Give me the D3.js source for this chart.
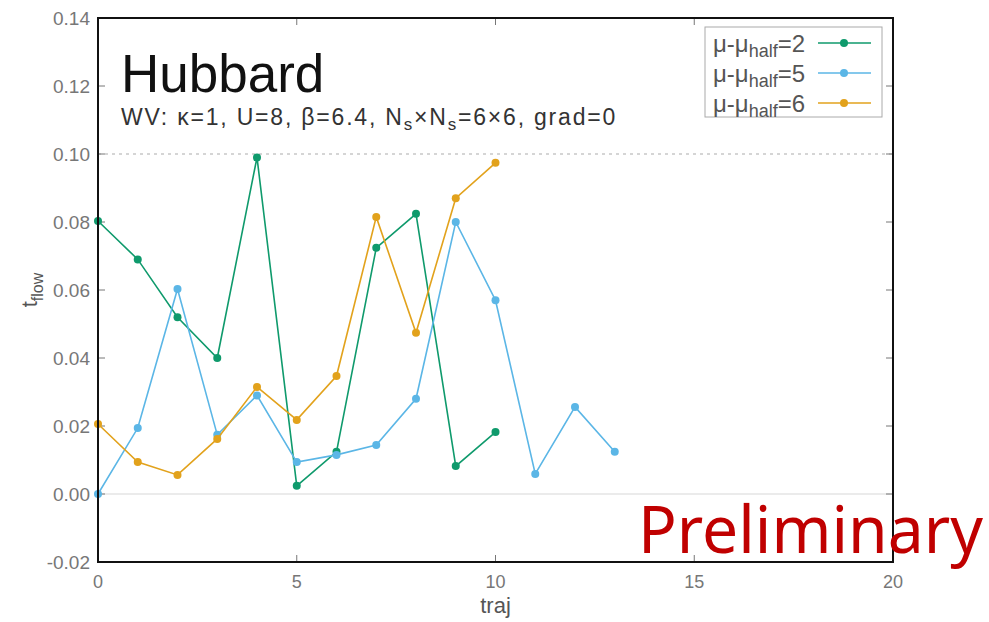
<!DOCTYPE html>
<html>
<head>
<meta charset="utf-8">
<script src="https://cdn.jsdelivr.net/npm/d3@7"></script>
<style>
  body { margin: 0; background: #fff; }
</style>
</head>
<body>
<div class="render"></div>
<script>
// series values (traj index = position)
var mu2 = [0.0803, 0.069, 0.052, 0.040, 0.099, 0.0024, 0.0124, 0.0724, 0.0824, 0.0082, 0.0182];
var mu5 = [0.000, 0.0194, 0.0603, 0.0174, 0.029, 0.0094, 0.0115, 0.0144, 0.028, 0.080, 0.057, 0.0059, 0.0256, 0.0124];
var mu6 = [0.0206, 0.0094, 0.0056, 0.0162, 0.0315, 0.0218, 0.0347, 0.0815, 0.0474, 0.087, 0.0974];
var seriesNames = ["2", "5", "6"];
var xTicks = [0, 5, 10, 15, 20];
var yTicks = [-0.02, 0.00, 0.02, 0.04, 0.06, 0.08, 0.10, 0.12, 0.14];
var refLines = [0.10, 0.00];

var colors = ["#0f9a6c", "#5bb6e6", "#e2a21c"];
var allSeries = [mu2, mu5, mu6];
var sans = "'Liberation Sans', Arial, sans-serif";

var W = 989, H = 622;
var margin = {top: 18, right: 96, bottom: 60, left: 98};
var width = W - margin.left - margin.right,
    height = H - margin.top - margin.bottom;

var svg = d3.select(".render").append("svg")
    .attr("width", W).attr("height", H)
    .attr("font-family", sans);
var g = svg.append("g")
    .attr("transform", "translate(" + margin.left + "," + margin.top + ")");

var x = d3.scaleLinear().domain([0, 20]).range([0, width]);
var y = d3.scaleLinear().domain([-0.02, 0.14]).range([height, 0]);

// reference lines
g.selectAll("line.ref").data(refLines).enter().append("line")
    .attr("class", "ref")
    .attr("x1", 0).attr("x2", width)
    .attr("y1", function(d) { return y(d); }).attr("y2", function(d) { return y(d); })
    .attr("stroke", function(d) { return d === 0 ? "#e4e4e4" : "#c8c8c8"; })
    .attr("stroke-width", 1.5)
    .attr("stroke-dasharray", function(d) { return d === 0 ? null : "3,4"; });

// ticks inside, mirrored on all sides
var tickLen = 7;
g.selectAll("line.xt").data(xTicks).enter().append("line")
    .attr("x1", function(d) { return x(d); }).attr("x2", function(d) { return x(d); })
    .attr("y1", height).attr("y2", height - tickLen)
    .attr("stroke", "#777").attr("stroke-width", 1);
g.selectAll("line.xt2").data(xTicks).enter().append("line")
    .attr("x1", function(d) { return x(d); }).attr("x2", function(d) { return x(d); })
    .attr("y1", 0).attr("y2", tickLen)
    .attr("stroke", "#777").attr("stroke-width", 1);
g.selectAll("line.yt").data(yTicks).enter().append("line")
    .attr("x1", 0).attr("x2", tickLen)
    .attr("y1", function(d) { return y(d); }).attr("y2", function(d) { return y(d); })
    .attr("stroke", "#777").attr("stroke-width", 1);
g.selectAll("line.yt2").data(yTicks).enter().append("line")
    .attr("x1", width).attr("x2", width - tickLen)
    .attr("y1", function(d) { return y(d); }).attr("y2", function(d) { return y(d); })
    .attr("stroke", "#777").attr("stroke-width", 1);

// tick labels
g.selectAll("text.xl").data(xTicks).enter().append("text")
    .attr("x", function(d) { return x(d); })
    .attr("y", height + 26)
    .attr("text-anchor", "middle")
    .attr("font-size", 18).attr("fill", "#777")
    .text(function(d) { return d; });
g.selectAll("text.yl").data(yTicks).enter().append("text")
    .attr("x", -8)
    .attr("y", function(d) { return y(d) + 7; })
    .attr("text-anchor", "end")
    .attr("font-size", 19).attr("fill", "#777")
    .text(function(d) { return d3.format(".2f")(d).replace("−", "-"); });

// lines and points
var line = d3.line()
    .x(function(d, i) { return x(i); })
    .y(function(d) { return y(d); });

allSeries.forEach(function(s, k) {
    g.append("path")
        .datum(s)
        .attr("d", line)
        .attr("fill", "none")
        .attr("stroke", colors[k])
        .attr("stroke-width", 1.6);
    g.selectAll("circle.s" + k).data(s).enter().append("circle")
        .attr("cx", function(d, i) { return x(i); })
        .attr("cy", function(d) { return y(d); })
        .attr("r", 4)
        .attr("fill", colors[k]);
});

// frame
g.append("rect")
    .attr("width", width).attr("height", height)
    .attr("fill", "none").attr("stroke", "#111").attr("stroke-width", 2);

// title texts
g.append("text")
    .attr("x", 23).attr("y", 74)
    .attr("font-size", 53).attr("fill", "#111")
    .text("Hubbard");
var sub = g.append("text")
    .attr("x", 23).attr("y", 107)
    .attr("font-size", 23).attr("letter-spacing", 1.8).attr("fill", "#333");
sub.append("tspan").text("WV: κ=1, U=8, β=6.4, N");
sub.append("tspan").attr("font-size", 17).attr("dy", 5).text("s");
sub.append("tspan").attr("dy", -5).text("×N");
sub.append("tspan").attr("font-size", 17).attr("dy", 5).text("s");
sub.append("tspan").attr("dy", -5).text("=6×6, grad=0");

// legend
var lg = g.append("g").attr("transform", "translate(" + (705 - margin.left) + "," + (27 - margin.top) + ")");
lg.append("rect")
    .attr("width", 177).attr("height", 90)
    .attr("fill", "#fff").attr("stroke", "#aaa").attr("stroke-width", 1);
seriesNames.forEach(function(n, k) {
    var row = lg.append("g").attr("transform", "translate(0," + (16 + k * 30) + ")");
    var t = row.append("text").attr("x", 8).attr("y", 9)
        .attr("font-size", 24).attr("fill", "#555");
    t.append("tspan").text("μ-μ");
    t.append("tspan").attr("font-size", 18).attr("dy", 5).text("half");
    t.append("tspan").attr("dy", -5).text("=" + n);
    row.append("line").attr("x1", 113).attr("x2", 166).attr("y1", 0).attr("y2", 0)
        .attr("stroke", colors[k]).attr("stroke-width", 1.6);
    row.append("circle").attr("cx", 139).attr("cy", 0).attr("r", 4).attr("fill", colors[k]);
});

// axis titles
svg.append("text")
    .attr("x", margin.left + width / 2).attr("y", 613)
    .attr("text-anchor", "middle")
    .attr("font-size", 22).attr("fill", "#555")
    .text("traj");
var yt = svg.append("text")
    .attr("transform", "translate(37," + (margin.top + height / 2) + ") rotate(-90)")
    .attr("text-anchor", "middle")
    .attr("font-size", 22).attr("fill", "#555");
yt.append("tspan").text("t");
yt.append("tspan").attr("font-size", 16).attr("dy", 6).text("flow");

// stamp
svg.append("text")
    .attr("x", 638).attr("y", 553)
    .attr("font-family", "'Noto Sans', 'Open Sans', sans-serif")
    .attr("font-size", 66).attr("fill", "#c00000")
    .attr("textLength", 345).attr("lengthAdjust", "spacingAndGlyphs")
    .text("Preliminary");
</script>
</body>
</html>
